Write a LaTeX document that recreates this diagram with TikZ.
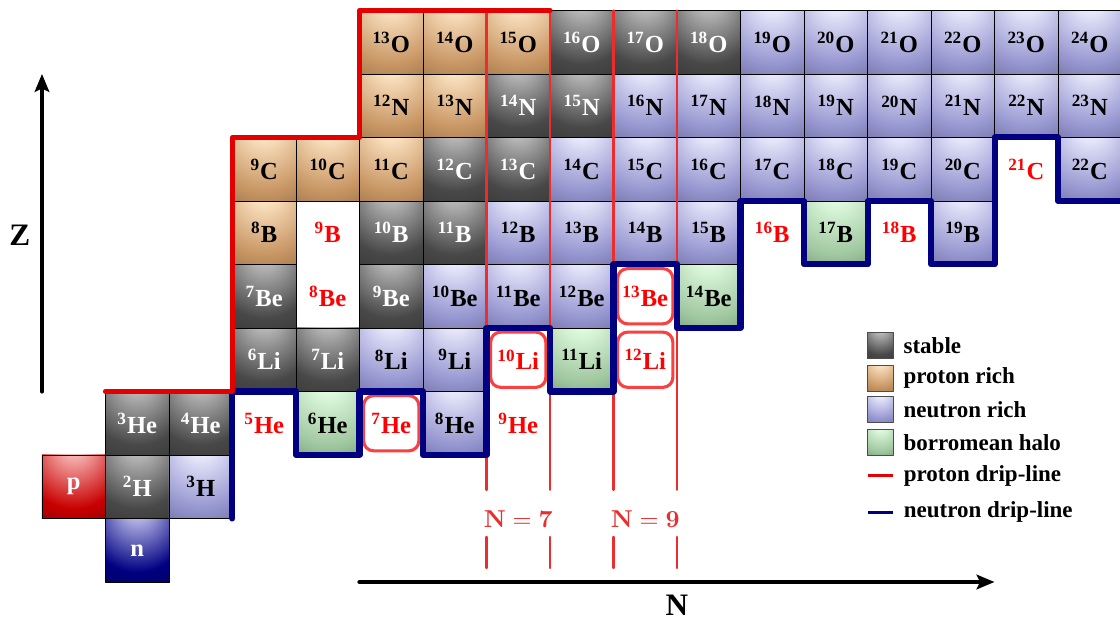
\documentclass[tikz,border=0pt]{standalone}
\usepackage[no-math]{fontspec}
\setmainfont{Liberation Serif}
\usetikzlibrary{arrows.meta}

\definecolor{stablelight}{RGB}{190,190,190}
\definecolor{stablemid}{RGB}{72,72,72}
\definecolor{stabledark}{RGB}{40,40,40}
\definecolor{protonlight}{RGB}{255,232,200}
\definecolor{protonmid}{RGB}{200,150,100}
\definecolor{protondark}{RGB}{118,86,50}
\definecolor{neutronlight}{RGB}{238,238,255}
\definecolor{neutronmid}{RGB}{150,150,208}
\definecolor{neutrondark}{RGB}{76,76,116}
\definecolor{halolight}{RGB}{228,254,228}
\definecolor{halomid}{RGB}{160,200,160}
\definecolor{halodark}{RGB}{80,108,80}
\definecolor{plight}{RGB}{250,190,190}
\definecolor{pmid}{RGB}{200,0,0}
\definecolor{pdark}{RGB}{95,0,0}
\definecolor{nlight}{RGB}{190,190,235}
\definecolor{nmid}{RGB}{0,0,130}
\definecolor{ndark}{RGB}{0,0,45}
\definecolor{pdrip}{RGB}{228,0,0}
\definecolor{ndrip}{RGB}{0,0,128}
\definecolor{nline}{RGB}{235,45,45}
\definecolor{resred}{RGB}{250,65,65}

% glow shading: light spot near the top of the cell
\newcommand{\newglow}[4]{\pgfdeclareradialshading{#1}{\pgfpoint{0bp}{38bp}}{color(0bp)=(#2); color(8bp)=(#2); color(40bp)=(#3); color(70bp)=(#4); color(100bp)=(#4)}}
\newglow{stableglow}{stablelight}{stablemid}{stabledark}
\newglow{protonglow}{protonlight}{protonmid}{protondark}
\newglow{neutronglow}{neutronlight}{neutronmid}{neutrondark}
\newglow{haloglow}{halolight}{halomid}{halodark}
\newglow{pglow}{plight}{pmid}{pdark}
\newglow{nglow}{nlight}{nmid}{ndark}

\newcommand{\iso}[2]{\textsuperscript{#1}#2}

\begin{document}
\begin{tikzpicture}[font=\bfseries\fontsize{11}{13}\selectfont, line join=round, line cap=round,
    >={Stealth[length=8pt,width=6.5pt,inset=1.5pt]},
    cell/.style={minimum size=1cm, inner sep=0pt, draw=black, line width=0.4pt, shade},
    stable/.style={cell, shading=stableglow, text=white},
    prich/.style={cell, shading=protonglow},
    nrich/.style={cell, shading=neutronglow},
    halo/.style={cell, shading=haloglow},
    unbound/.style={minimum size=1cm, inner sep=0pt, text=red},
    resonance/.style={unbound, minimum size=0.87cm, draw=resred, line width=1.4pt, rounded corners=4.5pt},
    keybox/.style={cell, minimum size=0.41cm, draw=gray!60!black},
    keytext/.style={anchor=west, inner sep=0pt, text=black, font=\bfseries\fontsize{10.3}{12}\selectfont},
    axislabel/.style={font=\bfseries\fontsize{14}{16}\selectfont}]
	\useasboundingbox (-0.661,-0.583) rectangle (16.976,9.165);

	% nucleons and hydrogen
	\node[cell, shading=nglow, text=white] (n) at (1.5,0.5) {n};
	\node[cell, shading=pglow, text=white] (p) at (0.5,1.5) {p};
	\foreach \n/\k in {1/stable,2/nrich}{
		\pgfmathtruncatemacro{\a}{\n+1}
		\node[\k] (H\a) at (\n+0.5,1.5) {\iso{\a}{H}};}
	\foreach \n/\k in {1/stable,2/stable,3/unbound,4/halo,5/resonance,6/nrich,7/unbound}{
		\pgfmathtruncatemacro{\a}{\n+2}
		\node[\k] (He\a) at (\n+0.5,2.5) {\iso{\a}{He}};}
	\foreach \n/\k in {3/stable,4/stable,5/nrich,6/nrich,7/resonance,8/halo,9/resonance}{
		\pgfmathtruncatemacro{\a}{\n+3}
		\node[\k] (Li\a) at (\n+0.5,3.5) {\iso{\a}{Li}};}
	\foreach \n/\k in {3/stable,4/unbound,5/stable,6/nrich,7/nrich,8/nrich,9/resonance,10/halo}{
		\pgfmathtruncatemacro{\a}{\n+4}
		\node[\k] (Be\a) at (\n+0.5,4.5) {\iso{\a}{Be}};}
	\foreach \n/\k in {3/prich,4/unbound,5/stable,6/stable,7/nrich,8/nrich,9/nrich,10/nrich,11/unbound,12/halo,13/unbound,14/nrich}{
		\pgfmathtruncatemacro{\a}{\n+5}
		\node[\k] (B\a) at (\n+0.5,5.5) {\iso{\a}{B}};}
	\foreach \n/\k in {3/prich,4/prich,5/prich,6/stable,7/stable,8/nrich,9/nrich,10/nrich,11/nrich,12/nrich,13/nrich,14/nrich,15/unbound,16/nrich}{
		\pgfmathtruncatemacro{\a}{\n+6}
		\node[\k] (C\a) at (\n+0.5,6.5) {\iso{\a}{C}};}
	\foreach \n/\k in {5/prich,6/prich,7/stable,8/stable,9/nrich,10/nrich,11/nrich,12/nrich,13/nrich,14/nrich,15/nrich,16/nrich}{
		\pgfmathtruncatemacro{\a}{\n+7}
		\node[\k] (N\a) at (\n+0.5,7.5) {\iso{\a}{N}};}
	\foreach \n/\k in {5/prich,6/prich,7/prich,8/stable,9/stable,10/stable,11/nrich,12/nrich,13/nrich,14/nrich,15/nrich,16/nrich}{
		\pgfmathtruncatemacro{\a}{\n+8}
		\node[\k] (O\a) at (\n+0.5,8.5) {\iso{\a}{O}};}

	% N = 7 and N = 9 columns
	\node[text=nline] (nseven) at (7.5,0.99) {$\mathbf{N=7}$};
	\node[text=nline] (nnine) at (9.5,0.99) {$\mathbf{N=9}$};
	\foreach \x in {7,8,9,10}
		\draw[nline, line width=0.9pt] (\x,9) -- (\x,1.45) (\x,0.71) -- (\x,0.22);

	% drip-lines
	\draw[ndrip, line width=2.7pt] (3,1) -- (3,3) -- (4,3) -- (4,2) -- (5,2) -- (5,3) -- (6,3) -- (6,2) -- (7,2) -- (7,4) -- (8,4) -- (8,3) -- (9,3) -- (9,5) -- (10,5) -- (10,4) -- (11,4) -- (11,6) -- (12,6) -- (12,5) -- (13,5) -- (13,6) -- (14,6) -- (14,5) -- (15,5) -- (15,7) -- (16,7) -- (16,6) -- (17,6);
	\draw[pdrip, line width=2.3pt] (1,3) -- (3,3) -- (3,7) -- (5,7) -- (5,9) -- (8,9);

	% axes
	\draw[->, line width=1.9pt] (0,3) -- (0,8);
	\node[axislabel] (zlabel) at (-0.35,5.46) {Z};
	\draw[->, line width=1.9pt] (5,0) -- (15,0);
	\node[axislabel] (nlabel) at (10,-0.36) {N};

	% legend
	\node[keybox, shading=stableglow] (keystable) at (13.2,3.72) {};
	\node[keytext] at ([xshift=0.15cm]keystable.east) {stable};
	\node[keybox, shading=protonglow] (keyproton) at (13.2,3.21) {};
	\node[keytext] at ([xshift=0.15cm]keyproton.east) {proton rich};
	\node[keybox, shading=neutronglow] (keyneutron) at (13.2,2.71) {};
	\node[keytext] at ([xshift=0.15cm]keyneutron.east) {neutron rich};
	\node[keybox, shading=haloglow] (keyhalo) at (13.2,2.20) {};
	\node[keytext] at ([xshift=0.15cm]keyhalo.east) {borromean halo};
	\draw[pdrip, line width=1.3pt, line cap=butt] (13,1.67) -- (13.4,1.67) node[keytext, xshift=0.15cm] {proton drip-line};
	\draw[ndrip, line width=1.3pt, line cap=butt] (13,1.10) -- (13.4,1.10) node[keytext, xshift=0.15cm] {neutron drip-line};
\end{tikzpicture}
\end{document}
